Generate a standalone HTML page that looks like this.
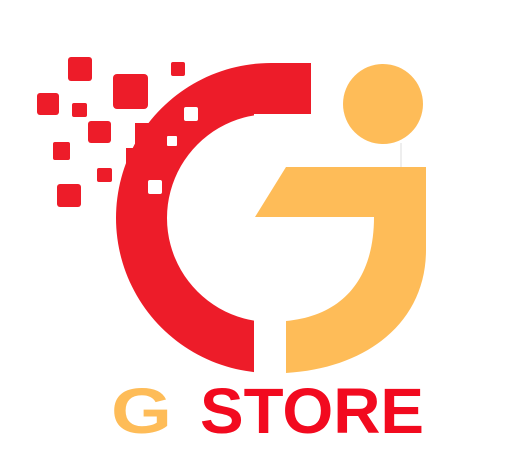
<!DOCTYPE html>
<html><head><meta charset="utf-8"><style>
html,body{margin:0;padding:0;background:#fff;}
svg{display:block;}
</style></head><body>
<svg width="530" height="471" viewBox="0 0 530 471">
<defs>
<clipPath id="cclip"><path d="M0,0 H311 V114 H254 V471 H0 Z"/></clipPath>
</defs>
<g fill="#ED1C29">
<path clip-path="url(#cclip)" fill-rule="evenodd" d="M271,63 A155,155 0 1,0 271.01,63 Z M271,114 A104,104 0 1,1 270.99,114 Z"/>
<rect x="271" y="63" width="40" height="50"/>
<rect x="135" y="123" width="20" height="24"/>
<rect x="126" y="148" width="30" height="20"/>
</g>
<g fill="#fff">
<rect x="184" y="107" width="14" height="14" rx="2"/>
<rect x="167" y="136" width="10" height="10" rx="1"/>
<rect x="148" y="180" width="14" height="14" rx="2"/>
</g>
<g fill="#ED1C29">
<rect x="68" y="57" width="24" height="24" rx="3"/>
<rect x="171" y="62" width="14" height="14" rx="2"/>
<rect x="113" y="74" width="35" height="35" rx="4"/>
<rect x="37" y="93" width="22" height="22" rx="3"/>
<rect x="72" y="103" width="15" height="14" rx="2"/>
<rect x="88" y="121" width="23" height="22" rx="3"/>
<rect x="53" y="142" width="17" height="18" rx="2"/>
<rect x="97" y="168" width="15" height="14" rx="2"/>
<rect x="57" y="184" width="24" height="23" rx="3"/>
</g>
<g fill="#FEBC58">
<circle cx="383" cy="104" r="40"/>
<line x1="401" y1="143" x2="401" y2="167" stroke="#ddd" stroke-width="1"/>
<path d="M286,167 H426 V250 C426,320 370,368 286,373 V321 C340,316 374,282 374,217 H255 Z"/>
</g>
<text x="111" y="433" font-family="Liberation Sans, sans-serif" font-weight="bold" font-size="64" fill="#FEBC58" textLength="61" lengthAdjust="spacingAndGlyphs">G</text>
<text x="200" y="433" font-family="Liberation Sans, sans-serif" font-weight="bold" font-size="64" fill="#F20A1F" textLength="224" lengthAdjust="spacingAndGlyphs">STORE</text>
</svg>
</body></html>
